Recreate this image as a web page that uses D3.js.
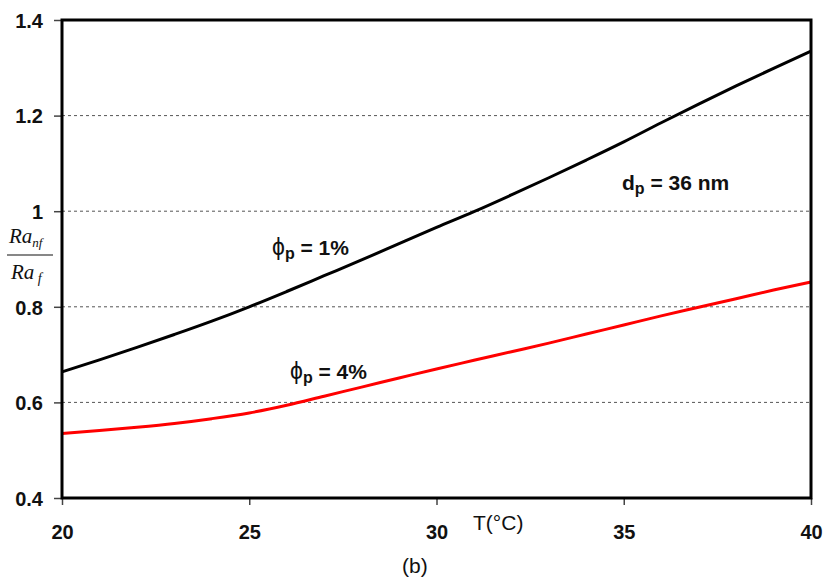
<!DOCTYPE html>
<html>
<head>
<meta charset="utf-8">
<script src="https://cdn.jsdelivr.net/npm/d3@7/dist/d3.min.js"></script>
<style>
  html, body { margin: 0; padding: 0; background: #fff; }
  svg { display: block; }
  .tick-label { font-family: "Liberation Sans", Arial, sans-serif; font-weight: bold; font-size: 20px; fill: #111; }
  .anno { font-family: "Liberation Sans", Arial, sans-serif; font-weight: bold; font-size: 21px; fill: #111; }
</style>
</head>
<body>
<script>
// Temperature (°C)
const temps = [20, 21, 22, 23, 24, 25, 26, 27, 28, 29, 30, 31, 32, 33, 34, 35, 36, 37, 38, 39, 40];
// Ra_nf / Ra_f for phi_p = 1%
const ratio1 = [0.664, 0.689, 0.715, 0.742, 0.770, 0.800, 0.832, 0.865, 0.898, 0.932, 0.966, 0.999, 1.034, 1.070, 1.107, 1.145, 1.185, 1.224, 1.262, 1.299, 1.335];
// Ra_nf / Ra_f for phi_p = 4%
const ratio4 = [0.535, 0.541, 0.548, 0.556, 0.566, 0.578, 0.594, 0.613, 0.632, 0.651, 0.670, 0.688, 0.706, 0.724, 0.743, 0.762, 0.781, 0.799, 0.817, 0.835, 0.852];
const xTicks = [20, 25, 30, 35, 40];
const yTicks = [0.4, 0.6, 0.8, 1.0, 1.2, 1.4];
const yTickLabels = ["0.4", "0.6", "0.8", "1", "1.2", "1.4"];

const W = 825, H = 583;
const plot = { left: 62, right: 811, top: 20, bottom: 498 };

const svg = d3.select("body").append("svg").attr("width", W).attr("height", H);

const x = d3.scaleLinear().domain([20, 40]).range([plot.left, plot.right]);
const y = d3.scaleLinear().domain([0.4, 1.4]).range([plot.bottom, plot.top]);

// dashed horizontal gridlines
svg.append("g").selectAll("line")
  .data(yTicks.filter(v => v > 0.4 && v < 1.4))
  .join("line")
  .attr("x1", plot.left).attr("x2", plot.right)
  .attr("y1", d => y(d)).attr("y2", d => y(d))
  .attr("stroke", "#555").attr("stroke-width", 1)
  .attr("stroke-dasharray", "3,3");

// axes with outward ticks
const yAxis = svg.append("g")
  .attr("transform", `translate(${plot.left},0)`)
  .call(d3.axisLeft(y).tickValues(yTicks).tickSize(8).tickFormat((d, i) => yTickLabels[i]).tickPadding(11));
const xAxis = svg.append("g")
  .attr("transform", `translate(0,${plot.bottom})`)
  .call(d3.axisBottom(x).tickValues(xTicks).tickSize(7).tickFormat(d3.format("d")).tickPadding(20));
[yAxis, xAxis].forEach(g => {
  g.select(".domain").remove();
  g.selectAll(".tick line").attr("stroke", "#444").attr("stroke-width", 1.5);
  g.selectAll(".tick text").attr("class", "tick-label").attr("fill", null);
});
yAxis.selectAll(".tick text").attr("dy", "0.36em");

// data lines
const line = d3.line().x((d, i) => x(temps[i])).y(d => y(d)).curve(d3.curveMonotoneX);
svg.append("path").datum(ratio1).attr("d", line)
  .attr("fill", "none").attr("stroke", "#000").attr("stroke-width", 3);
svg.append("path").datum(ratio4).attr("d", line)
  .attr("fill", "none").attr("stroke", "#ff0000").attr("stroke-width", 3);

// plot frame
svg.append("rect")
  .attr("x", plot.left).attr("y", plot.top)
  .attr("width", plot.right - plot.left).attr("height", plot.bottom - plot.top)
  .attr("fill", "none").attr("stroke", "#000").attr("stroke-width", 3);

// annotations
function phiLabel(tx, ty, pct) {
  const t = svg.append("text").attr("class", "anno").attr("x", tx).attr("y", ty);
  t.append("tspan").text("ϕ").style("font-weight", "normal").style("font-size", "23px");
  t.append("tspan").text("p").attr("dy", 4).style("font-size", "16px");
  t.append("tspan").text(" = " + pct).attr("dy", -4);
}
phiLabel(272, 255, "1%");
phiLabel(290, 379, "4%");

const dp = svg.append("text").attr("class", "anno").attr("x", 622).attr("y", 190);
dp.append("tspan").text("d");
dp.append("tspan").text("p").attr("dy", 4).style("font-size", "16px");
dp.append("tspan").text(" = 36 nm").attr("dy", -4);

// x axis title
svg.append("text").attr("x", 473).attr("y", 530)
  .style("font-family", "Liberation Sans, Arial, sans-serif").style("font-size", "21px").attr("fill", "#111")
  .text("T(°C)");

// panel tag
svg.append("text").attr("x", 402).attr("y", 573)
  .style("font-family", "Liberation Sans, Arial, sans-serif").style("font-size", "21px").attr("fill", "#111")
  .text("(b)");

// y axis title: Ra_nf / Ra_f
const serif = "Liberation Serif, Times New Roman, serif";
const num = svg.append("text").attr("x", 9).attr("y", 243)
  .style("font-family", serif).style("font-style", "italic").style("font-size", "21px").attr("fill", "#111");
num.append("tspan").text("Ra");
num.append("tspan").text("nf").attr("dy", 4).style("font-size", "13px");
svg.append("line").attr("x1", 7).attr("x2", 53).attr("y1", 255).attr("y2", 255)
  .attr("stroke", "#111").attr("stroke-width", 1.2);
const den = svg.append("text").attr("x", 11).attr("y", 279)
  .style("font-family", serif).style("font-style", "italic").style("font-size", "21px").attr("fill", "#111");
den.append("tspan").text("Ra");
den.append("tspan").text(" f").attr("dy", 4).style("font-size", "14px");
</script>
</body>
</html>
